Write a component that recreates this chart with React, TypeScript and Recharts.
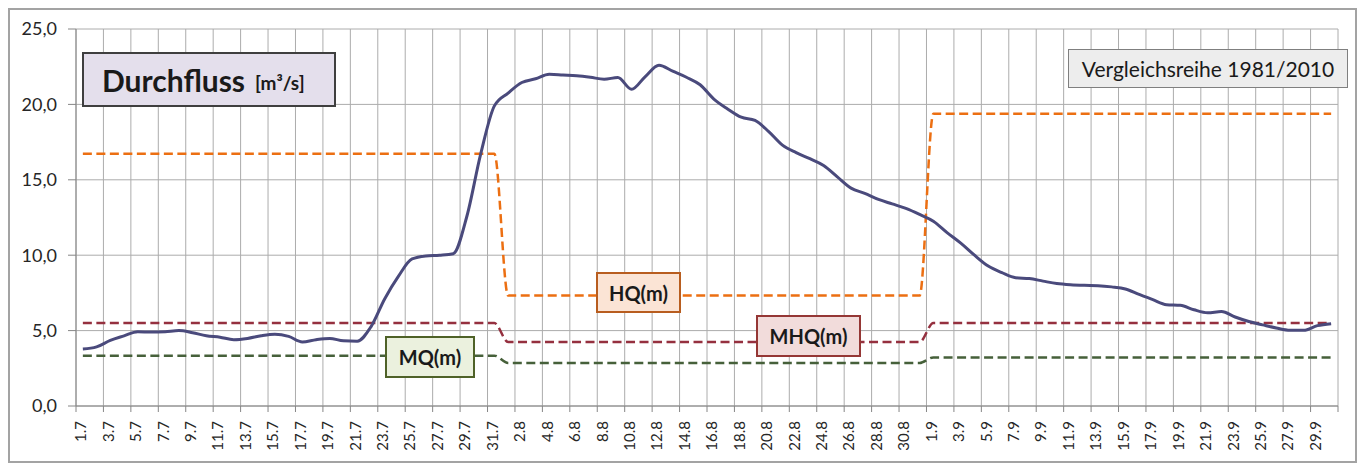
import { LineChart, Line, XAxis, YAxis, CartesianGrid } from 'recharts';

// season July - September, one value per day
const months = [
  { month: 7, days: 31 },
  { month: 8, days: 31 },
  { month: 9, days: 30 },
];

// daily discharge [m³/s]
const flowJuly = [
  3.78, 3.92, 4.35, 4.65, 4.93, 4.9, 4.93, 5.0, 4.86, 4.66,
  4.56, 4.4, 4.48, 4.66, 4.76, 4.62, 4.25, 4.4, 4.48, 4.32,
  4.3, 5.25, 7.1, 8.6, 9.75, 9.95, 10.0, 10.1, 12.6, 16.7,
  19.9,
];
const flowAugust = [
  20.75, 21.45, 21.7, 22.0, 21.95, 21.9, 21.8, 21.67, 21.78, 21.0,
  21.85, 22.6, 22.2, 21.8, 21.3, 20.35, 19.7, 19.15, 18.94, 18.2,
  17.3, 16.8, 16.4, 15.95, 15.2, 14.45, 14.1, 13.7, 13.4, 13.1,
  12.7,
];
const flowSeptember = [
  12.25, 11.5, 10.8, 10.0, 9.28, 8.84, 8.5, 8.45, 8.28, 8.12,
  8.04, 8.0, 7.98, 7.9, 7.76, 7.4, 7.05, 6.72, 6.68, 6.38,
  6.18, 6.26, 5.9, 5.6, 5.38, 5.17, 5.02, 5.02, 5.33, 5.46,
];
const flowMonthly = [flowJuly, flowAugust, flowSeptember];

// reference values per month (Vergleichsreihe 1981/2010)
const hqMonthly = [16.72, 7.32, 19.38];
const mhqMonthly = [5.5, 4.24, 5.5];
const mqMonthly = [3.34, 2.85, 3.22];

const yTicks = [0, 5, 10, 15, 20, 25];

const categories = months.flatMap((m, mi) =>
  Array.from({ length: m.days }, (_, d) => ({ label: `${d + 1}.${m.month}`, mi, d }))
);

// tick marks and vertical gridlines sit between categories, every second day
const xTicks = Array.from({ length: categories.length / 2 + 1 }, (_, k) => k * 2);

const data = categories.map((c, i) => ({
  pos: i + 0.5,
  label: c.label,
  flow: flowMonthly[c.mi][c.d],
  hq: hqMonthly[c.mi],
  mhq: mhqMonthly[c.mi],
  mq: mqMonthly[c.mi],
}));

const FONT = 'Lato, "Open Sans", sans-serif';
const AXIS_GREY = '#868686';

function XTick(props: any) {
  const { x, y, payload } = props;
  const cat = categories[payload.value];
  if (!cat) return <g />;
  const cx = x + 5;
  return (
    <text
      x={cx}
      y={y}
      dy="0.35em"
      transform={`rotate(-90, ${cx}, ${y})`}
      textAnchor="end"
      fontSize={15}
      fontFamily={FONT}
      fill="#262626"
    >
      {cat.label}
    </text>
  );
}

const boxBase: React.CSSProperties = {
  position: 'absolute',
  boxSizing: 'border-box',
  display: 'flex',
  alignItems: 'center',
  justifyContent: 'center',
  fontFamily: FONT,
  color: '#1a1a1a',
};

export default function App() {
  return (
    <div
      style={{
        position: 'relative',
        width: 1349,
        height: 455,
        boxSizing: 'border-box',
        border: '2px solid #a3a3a3',
        background: '#fff',
        fontFamily: FONT,
      }}
    >
      <LineChart
        width={1345}
        height={451}
        data={data}
        margin={{ top: 19, right: 17, bottom: 5, left: 6 }}
      >
        <CartesianGrid stroke="#acacac" strokeWidth={1} />
        <XAxis
          type="number"
          dataKey="pos"
          domain={[0, categories.length]}
          ticks={xTicks}
          interval={0}
          height={50}
          tickSize={6}
          tickMargin={9}
          axisLine={{ stroke: AXIS_GREY }}
          tickLine={{ stroke: AXIS_GREY }}
          tick={XTick}
        />
        <YAxis
          domain={[0, 25]}
          ticks={yTicks}
          interval={0}
          width={60}
          tickSize={8}
          tickMargin={11}
          axisLine={{ stroke: AXIS_GREY }}
          tickLine={{ stroke: AXIS_GREY }}
          tickFormatter={(v: number) => v.toFixed(1).replace('.', ',')}
          tick={{ fontSize: 18, fill: '#262626', fontFamily: FONT }}
        />
        <Line type="monotone" dataKey="hq" stroke="#ec6f12" strokeWidth={2.5} strokeDasharray="9 4.5" dot={false} isAnimationActive={false} />
        <Line type="monotone" dataKey="mhq" stroke="#95303f" strokeWidth={2.5} strokeDasharray="9 4.5" dot={false} isAnimationActive={false} />
        <Line type="monotone" dataKey="mq" stroke="#46603a" strokeWidth={2.5} strokeDasharray="9 4.5" dot={false} isAnimationActive={false} />
        <Line type="monotone" dataKey="flow" stroke="#4a4a7c" strokeWidth={3} dot={false} isAnimationActive={false} />
      </LineChart>

      <div
        style={{
          ...boxBase,
          left: 72,
          top: 42,
          width: 254,
          height: 55,
          background: '#e4dfec',
          border: '2px solid #3f3f3f',
          justifyContent: 'flex-start',
          paddingLeft: 18,
          fontWeight: 700,
        }}
      >
        <span style={{ fontSize: 30 }}>Durchfluss</span>
        <span style={{ fontSize: 19, marginLeft: 10, marginTop: 6 }}>[m³/s]</span>
      </div>

      <div
        style={{
          ...boxBase,
          left: 1058,
          top: 39,
          width: 280,
          height: 39,
          background: '#ededed',
          border: '1.5px solid #7f7f7f',
          fontSize: 21,
        }}
      >
        Vergleichsreihe 1981/2010
      </div>

      <div
        style={{
          ...boxBase,
          left: 586,
          top: 262,
          width: 85,
          height: 41,
          background: '#fbe4d5',
          border: '2px solid #b85d1f',
          fontSize: 20,
          fontWeight: 700,
        }}
      >
        HQ(m)
      </div>

      <div
        style={{
          ...boxBase,
          left: 746,
          top: 305,
          width: 105,
          height: 42,
          background: '#f2dcdb',
          border: '2px solid #953735',
          fontSize: 20,
          fontWeight: 700,
        }}
      >
        MHQ(m)
      </div>

      <div
        style={{
          ...boxBase,
          left: 375,
          top: 326,
          width: 90,
          height: 42,
          background: '#ebf1de',
          border: '2px solid #4f6228',
          fontSize: 20,
          fontWeight: 700,
        }}
      >
        MQ(m)
      </div>
    </div>
  );
}
